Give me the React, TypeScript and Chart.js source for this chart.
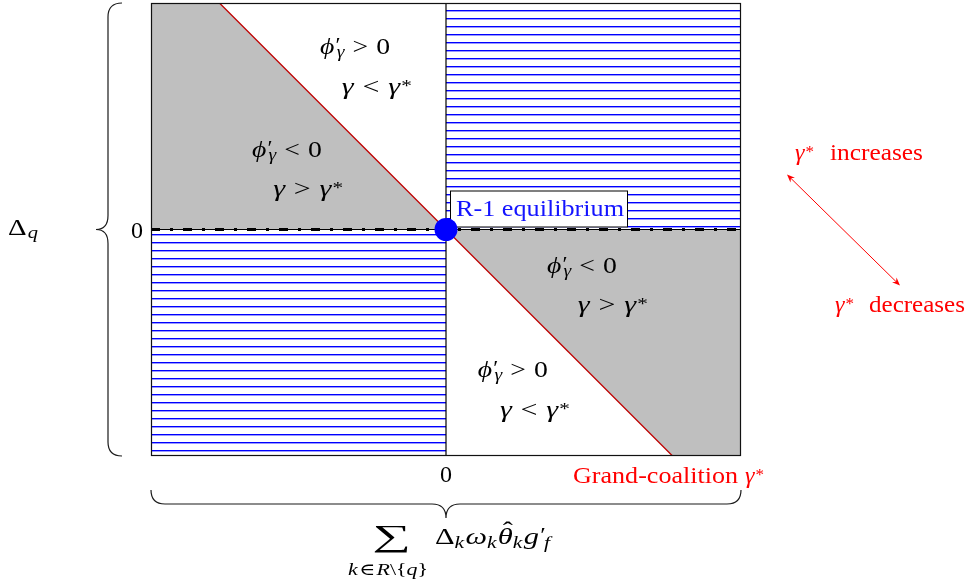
import React, { useEffect, useRef } from 'react';
import { Chart, registerables } from 'chart.js';

Chart.register(...registerables);

// ---- data (axis units: both axes run from -1 to 1, zero in the middle) ----
const axisX = [-1, 1];
const axisY = [-1, 1];
const boundaryX = [-0.768, 0.768]; // red line gamma = gamma*
const boundaryY = [1, -1];
const shadeUpperX = [-1, -0.768, 0];
const shadeUpperY = [1, 1, 0];
const shadeLowerX = [0, 0.768, 1];
const shadeLowerY = [0, -1, -1];
const hatchUpperX = [0, 1];
const hatchUpperY = [1, 1];
const hatchLowerX = [-1, 0];
const hatchLowerY = [-1, -1];
const equilibriumX = [0];
const equilibriumY = [0];
const zeroLineX = [-1, 1];
const zeroLineY = [0, 0];
const splitLineX = [0, 0];
const splitLineY = [-1, 1];
const xTicks = [0];
const yTicks = [0];
const xTickLabels = ['0'];
const yTickLabels = ['0'];
const equilibriumLabel = 'R-1 equilibrium';

const SERIF = '"Liberation Serif", "DejaVu Serif", serif';

type Tok = { s: string; f?: 'i' | 'r'; z?: number; dy?: number; dx?: number; noAdv?: boolean; hat?: boolean };

const fontOf = (t: Tok) => `${t.f === 'i' ? 'italic ' : ''}${t.z ?? 24}px ${SERIF}`;

function drawRun(
  ctx: CanvasRenderingContext2D,
  x: number,
  y: number,
  toks: Tok[],
  color: string,
  targetW?: number,
  align: 'left' | 'center' | 'right' = 'left'
) {
  let cx = 0;
  let maxR = 0;
  const placed: [Tok, number, number][] = [];
  for (const t of toks) {
    cx += t.dx || 0;
    ctx.font = fontOf(t);
    const w = ctx.measureText(t.s).width;
    placed.push([t, cx, w]);
    maxR = Math.max(maxR, cx + w);
    if (!t.noAdv) cx += w;
  }
  const total = Math.max(cx, maxR);
  const sx = targetW ? targetW / total : 1;
  const ox = align === 'center' ? x - (total * sx) / 2 : align === 'right' ? x - total * sx : x;
  ctx.save();
  ctx.translate(ox, y);
  ctx.scale(sx, 1);
  ctx.fillStyle = color;
  ctx.textBaseline = 'alphabetic';
  ctx.textAlign = 'left';
  for (const [t, px, w] of placed) {
    ctx.font = fontOf(t);
    ctx.fillText(t.s, px, t.dy || 0);
    if (t.hat) {
      ctx.font = `24px ${SERIF}`;
      const hw = ctx.measureText('ˆ').width;
      ctx.fillText('ˆ', px + w / 2 - hw / 2 + 2, (t.dy || 0) - 6);
    }
  }
  ctx.restore();
}

function drawFitted(ctx: CanvasRenderingContext2D, s: string, left: number, top: number, w: number, h: number, color: string) {
  ctx.save();
  ctx.font = `100px ${SERIF}`;
  const m = ctx.measureText(s);
  const gw = m.actualBoundingBoxLeft + m.actualBoundingBoxRight;
  const gh = m.actualBoundingBoxAscent + m.actualBoundingBoxDescent;
  ctx.translate(left, top);
  ctx.scale(w / gw, h / gh);
  ctx.fillStyle = color;
  ctx.textBaseline = 'alphabetic';
  ctx.textAlign = 'left';
  ctx.fillText(s, m.actualBoundingBoxLeft, m.actualBoundingBoxAscent);
  ctx.restore();
}

function arrowHead(ctx: CanvasRenderingContext2D, tx: number, ty: number, ang: number) {
  const L = 8;
  const hw = 3.2;
  const c = Math.cos(ang);
  const s = Math.sin(ang);
  const bx = tx - L * c;
  const by = ty - L * s;
  ctx.beginPath();
  ctx.moveTo(tx, ty);
  ctx.lineTo(bx - hw * s, by + hw * c);
  ctx.lineTo(tx - (L - 2.5) * c, ty - (L - 2.5) * s);
  ctx.lineTo(bx + hw * s, by - hw * c);
  ctx.closePath();
  ctx.fill();
}

const phiToks = (rel: string): Tok[] => [
  { s: 'ϕ', f: 'i' },
  { s: '′', z: 20, dy: -2, dx: 1, noAdv: true },
  { s: 'γ', f: 'i', z: 17, dy: 3, dx: 1 },
  { s: rel, dx: 7 },
  { s: '0', dx: 7 },
];
const gammaToks = (rel: string): Tok[] => [
  { s: 'γ', f: 'i' },
  { s: rel, dx: 7 },
  { s: 'γ', f: 'i', dx: 7 },
  { s: '*', z: 17, dy: -3, dx: 1 },
];
const gammaStar: Tok[] = [
  { s: 'γ', f: 'i' },
  { s: '*', z: 17, dy: -3, dx: 1 },
];

// region annotations, placed in axis units
const regionLabels = [
  { x: -0.427, y: 0.773, toks: phiToks('>') },
  { x: -0.353, y: 0.6, toks: gammaToks('<') },
  { x: -0.658, y: 0.322, toks: phiToks('<') },
  { x: -0.586, y: 0.15, toks: gammaToks('>') },
  { x: 0.342, y: -0.194, toks: phiToks('<') },
  { x: 0.447, y: -0.366, toks: gammaToks('>') },
  { x: 0.108, y: -0.653, toks: phiToks('>') },
  { x: 0.183, y: -0.826, toks: gammaToks('<') },
];

const pts = (xs: number[], ys: number[]) => xs.map((x, i) => ({ x, y: ys[i] }));

export default function App() {
  const ref = useRef<HTMLCanvasElement>(null);

  useEffect(() => {
    const canvas = ref.current!;
    const ctx = canvas.getContext('2d')!;

    const pc = document.createElement('canvas');
    pc.width = 8;
    pc.height = 8;
    const pctx = pc.getContext('2d')!;
    pctx.fillStyle = 'rgb(0,0,255)';
    pctx.fillRect(0, 2, 8, 1);
    pctx.fillStyle = 'rgba(0,0,255,0.4)';
    pctx.fillRect(0, 3, 8, 1);
    const hatch = ctx.createPattern(pc, 'repeat')!;

    const clear = 'rgba(0,0,0,0)';

    const annotations = {
      id: 'annotations',
      beforeDatasetDraw(chart: any, args: any) {
        if (args.index !== 0) return;
        const c = chart.ctx as CanvasRenderingContext2D;
        const X0 = chart.scales.x.getPixelForValue(equilibriumX[0]);
        const Y0 = chart.scales.y.getPixelForValue(equilibriumY[0]);
        c.save();
        c.fillStyle = '#fff';
        c.fillRect(X0 + 4, Y0 - 39, 178, 37);
        c.strokeStyle = '#000';
        c.lineWidth = 1;
        c.strokeRect(X0 + 4.5, Y0 - 38.5, 177, 36);
        c.restore();
        drawRun(c, X0 + 10, Y0 - 14, [{ s: equilibriumLabel }], 'rgb(20,20,255)', 168);
      },
      afterDatasetsDraw(chart: any) {
        const c = chart.ctx as CanvasRenderingContext2D;
        const { left: L, top: T, right: R, bottom: B } = chart.chartArea;
        const xs = chart.scales.x;
        const ys = chart.scales.y;
        const X0 = xs.getPixelForValue(xTicks[0]);
        const Y0 = ys.getPixelForValue(yTicks[0]);

        // frame
        c.save();
        c.strokeStyle = '#111';
        c.lineWidth = 1.2;
        c.strokeRect(L + 0.5, T + 0.5, R - L - 1, B - T - 1);
        c.restore();

        // region labels
        for (const lab of regionLabels) {
          drawRun(c, xs.getPixelForValue(lab.x), ys.getPixelForValue(lab.y), lab.toks, '#000', 70);
        }

        // tick labels
        drawRun(c, L - 8, ys.getPixelForValue(yTicks[0]) + 8, [{ s: yTickLabels[0] }], '#000', undefined, 'right');
        drawRun(c, xs.getPixelForValue(xTicks[0]), B + 26, [{ s: xTickLabels[0] }], '#000', undefined, 'center');

        // braces
        c.save();
        c.strokeStyle = '#1a1a1a';
        c.lineWidth = 1.2;
        const xl = L - 43, xt = L - 55, xe = L - 29;
        c.beginPath();
        c.moveTo(xe, T);
        c.quadraticCurveTo(xl, T, xl, T + 14);
        c.lineTo(xl, Y0 - 14);
        c.quadraticCurveTo(xl, Y0, xt, Y0);
        c.quadraticCurveTo(xl, Y0, xl, Y0 + 14);
        c.lineTo(xl, B - 14);
        c.quadraticCurveTo(xl, B, xe, B);
        c.stroke();
        const ye = B + 34, yl = B + 48, yt = B + 62;
        c.beginPath();
        c.moveTo(L, ye);
        c.quadraticCurveTo(L, yl, L + 14, yl);
        c.lineTo(X0 - 14, yl);
        c.quadraticCurveTo(X0, yl, X0, yt);
        c.quadraticCurveTo(X0, yl, X0 + 14, yl);
        c.lineTo(R - 14, yl);
        c.quadraticCurveTo(R, yl, R, ye);
        c.stroke();
        c.restore();

        // left label
        drawRun(c, L - 143, Y0 + 5, [{ s: 'Δ' }, { s: 'q', f: 'i', z: 17, dy: 3, dx: 1 }], '#000', 30);

        // bottom label
        drawFitted(c, '∑', X0 - 71, B + 70, 33, 27, '#000');
        drawRun(
          c,
          X0 - 58,
          B + 119,
          [
            { s: 'k', f: 'i', z: 17 },
            { s: '∈', z: 17, dx: 1 },
            { s: 'R', f: 'i', z: 17, dx: 1 },
            { s: '\\', z: 17 },
            { s: '{', z: 17 },
            { s: 'q', f: 'i', z: 17 },
            { s: '}', z: 17 },
          ],
          '#000',
          80,
          'center'
        );
        drawRun(
          c,
          X0 - 11,
          B + 88,
          [
            { s: 'Δ' },
            { s: 'k', f: 'i', z: 17, dy: 4 },
            { s: 'ω', f: 'i', dx: 1 },
            { s: 'k', f: 'i', z: 17, dy: 4 },
            { s: 'θ', f: 'i', dx: 1, hat: true },
            { s: 'k', f: 'i', z: 17, dy: 4 },
            { s: 'g', f: 'i', dx: 1 },
            { s: '′', z: 20, dy: -2, dx: 1, noAdv: true },
            { s: 'f', f: 'i', z: 17, dy: 4, dx: 3 },
          ],
          '#000',
          115
        );

        // red texts
        const red = 'rgb(255,0,0)';
        drawRun(c, R - 168, B + 27, [{ s: 'Grand-coalition' }], red, 165);
        drawRun(c, R + 4, B + 27, gammaStar, red);
        drawRun(c, R + 54, Y0 - 70, gammaStar, red);
        drawRun(c, R + 89, Y0 - 70, [{ s: 'increases' }], red, 93);
        drawRun(c, R + 94, Y0 + 82, gammaStar, red);
        drawRun(c, R + 128, Y0 + 82, [{ s: 'decreases' }], red, 96);

        // double arrow
        const ax1 = R + 46, ay1 = Y0 - 55, ax2 = R + 159, ay2 = Y0 + 56;
        const ang = Math.atan2(ay2 - ay1, ax2 - ax1);
        c.save();
        c.strokeStyle = red;
        c.fillStyle = red;
        c.lineWidth = 1;
        c.beginPath();
        c.moveTo(ax1 + 4 * Math.cos(ang), ay1 + 4 * Math.sin(ang));
        c.lineTo(ax2 - 4 * Math.cos(ang), ay2 - 4 * Math.sin(ang));
        c.stroke();
        arrowHead(c, ax2, ay2, ang);
        arrowHead(c, ax1, ay1, ang + Math.PI);
        c.restore();
      },
    };

    const chart = new Chart(ctx, {
      type: 'line',
      data: {
        datasets: [
          {
            label: 'equilibrium',
            data: pts(equilibriumX, equilibriumY),
            showLine: false,
            pointRadius: 11.5,
            pointBackgroundColor: 'rgb(0,0,255)',
            pointBorderWidth: 0,
            pointBorderColor: clear,
            order: 0,
          },
          {
            label: 'zero dash-dot',
            data: pts(zeroLineX, zeroLineY),
            borderColor: '#000',
            borderWidth: 3,
            borderDash: [9, 10, 3, 10],
            borderCapStyle: 'butt',
            pointRadius: 0,
            fill: false,
            order: 1,
          },
          {
            label: 'zero line',
            data: pts(zeroLineX, zeroLineY),
            borderColor: '#000',
            borderWidth: 1,
            pointRadius: 0,
            fill: false,
            order: 2,
          },
          {
            label: 'boundary',
            data: pts(boundaryX, boundaryY),
            borderColor: 'rgb(190,0,0)',
            borderWidth: 1.3,
            pointRadius: 0,
            fill: false,
            order: 3,
          },
          {
            label: 'split',
            data: pts(splitLineX, splitLineY),
            borderColor: '#000',
            borderWidth: 1.2,
            pointRadius: 0,
            fill: false,
            order: 4,
          },
          {
            label: 'hatch upper',
            data: pts(hatchUpperX, hatchUpperY),
            borderColor: clear,
            borderWidth: 1,
            backgroundColor: hatch,
            fill: 'origin',
            pointRadius: 0,
            order: 5,
          },
          {
            label: 'hatch lower',
            data: pts(hatchLowerX, hatchLowerY),
            borderColor: clear,
            borderWidth: 1,
            backgroundColor: hatch,
            fill: 'origin',
            pointRadius: 0,
            order: 6,
          },
          {
            label: 'shade upper',
            data: pts(shadeUpperX, shadeUpperY),
            borderColor: clear,
            borderWidth: 1,
            backgroundColor: 'rgb(191,191,191)',
            fill: 'origin',
            pointRadius: 0,
            order: 7,
          },
          {
            label: 'shade lower',
            data: pts(shadeLowerX, shadeLowerY),
            borderColor: clear,
            borderWidth: 1,
            backgroundColor: 'rgb(191,191,191)',
            fill: 'origin',
            pointRadius: 0,
            order: 8,
          },
        ] as any,
      },
      options: {
        responsive: false,
        animation: false,
        devicePixelRatio: 1,
        events: [],
        layout: { autoPadding: false, padding: { left: 151, top: 3, right: 230, bottom: 132 } },
        scales: {
          x: { type: 'linear', min: axisX[0], max: axisX[1], display: false },
          y: { type: 'linear', min: axisY[0], max: axisY[1], display: false },
        },
        elements: { line: { tension: 0 } },
        plugins: {
          legend: { display: false },
          tooltip: { enabled: false },
          filler: { propagate: false },
        },
      } as any,
      plugins: [annotations as any],
    });

    return () => chart.destroy();
  }, []);

  return (
    <div style={{ position: 'absolute', left: 0, top: 0, width: 971, height: 588, background: '#fff' }}>
      <canvas ref={ref} width={971} height={588} style={{ display: 'block', width: 971, height: 588 }} />
    </div>
  );
}
